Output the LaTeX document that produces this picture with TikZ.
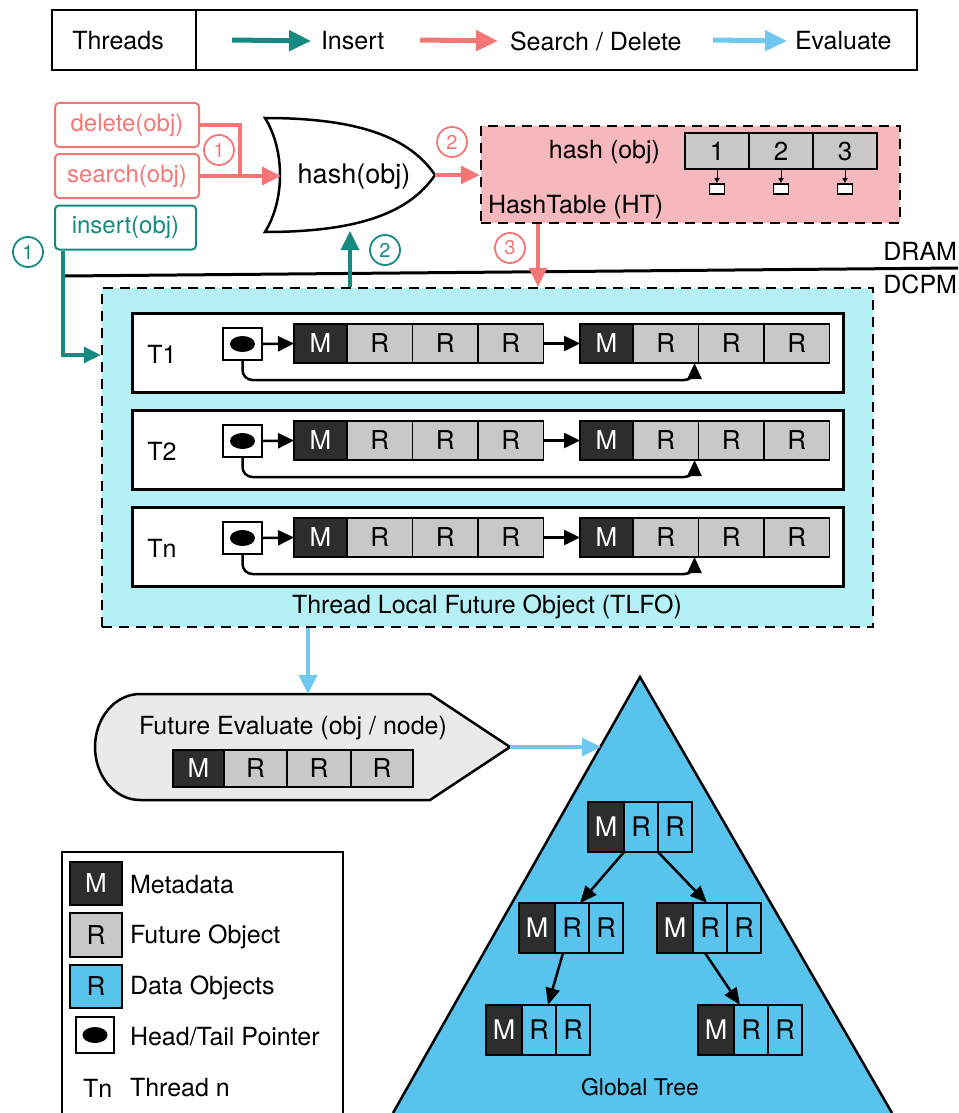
\documentclass[tikz,border=0pt]{standalone}
\usepackage{fontspec}
\setmainfont{TeX Gyre Heros}
\usetikzlibrary{arrows.meta,calc}
\definecolor{tealc}{RGB}{22,138,128}
\definecolor{pinkc}{RGB}{244,118,118}
\definecolor{bluec}{RGB}{110,200,240}
\definecolor{htfill}{RGB}{246,184,188}
\definecolor{tlfofill}{RGB}{180,240,246}
\definecolor{grayc}{RGB}{200,200,200}
\definecolor{darkc}{RGB}{45,45,45}
\definecolor{trifill}{RGB}{88,196,238}
\definecolor{fefill}{RGB}{234,234,234}
\newcommand\myfs[1]{\fontsize{#1}{#1}\selectfont}
\begin{document}
\begin{tikzpicture}[x=1pt,y=-1pt,
  lbl/.style={inner sep=0pt, outer sep=0pt, font=\myfs{25}},
  mc/.style={draw=black, fill=darkc, text=white, line width=1.5pt, inner sep=0pt, outer sep=0pt,
     minimum height=39pt, minimum width=53pt, anchor=west, font=\myfs{26}},
  rc/.style={mc, fill=grayc, text=black, minimum width=65.5pt},
  tm/.style={mc, line width=2pt, minimum width=36pt, minimum height=50pt, font=\myfs{27}},
  tr/.style={tm, fill=trifill, text=black, minimum width=34pt},
  legarrow/.style={line width=5pt, -{Triangle[length=22pt,width=20pt]}},
  carrow/.style={line width=3.5pt, -{Triangle[length=19pt,width=18pt]}},
  numc/.style={circle, draw, line width=1.8pt, minimum size=30pt, inner sep=0pt, font=\myfs{20}},
  blk/.style={line width=2.5pt, -{Triangle[length=16pt,width=15pt]}},
  tarr/.style={line width=2.5pt, -{Triangle[length=17pt,width=14pt]}},
  opbox/.style={draw, line width=2pt, rounded corners=4pt, minimum width=144pt, minimum height=44pt, inner sep=0pt, font=\myfs{24}},
  cellh/.style={draw, fill=grayc, line width=2pt, minimum width=64pt, minimum height=36pt, inner sep=0pt, font=\myfs{26}},
  sbox/.style={draw, fill=white, line width=1.8pt, minimum width=15pt, minimum height=10pt, inner sep=0pt},
  dbox/.style={draw, dashed, dash pattern=on 10pt off 7pt, line width=2.5pt, inner sep=0pt},
  ptrbox/.style={draw, fill=white, line width=2pt, minimum width=39pt, minimum height=32pt, inner sep=0pt}
]
\useasboundingbox (0,0) rectangle (958,1113);

% ---------- top legend ----------
\node[draw, line width=2pt, minimum width=865pt, minimum height=60pt, inner sep=0pt] (leg) at (484.5,40) {};
\draw[line width=2pt] ($(leg.north west)+(145,0)$) -- ($(leg.south west)+(145,0)$);
\node[lbl] (lthr) at (118,41) {Threads};
\node[lbl, anchor=west] (lins) at (321,41) {Insert};
\node[lbl, anchor=west] (lsd) at (510,41) {Search / Delete};
\node[lbl, anchor=west] (lev) at (795,41) {Evaluate};
\coordinate (la1) at (232,40);
\coordinate (la2) at (420,40);
\coordinate (la3) at (713,40);
\draw[legarrow, tealc] (la1) -- ([xshift=-10pt]lins.west);
\draw[legarrow, pinkc] (la2) -- ([xshift=-12pt]lsd.west);
\draw[legarrow, bluec] (la3) -- ([xshift=-8pt]lev.west);

% ---------- operations ----------
\node[opbox, draw=pinkc, text=pinkc] (del) at (127,125) {delete(obj)};
\node[opbox, draw=pinkc, text=pinkc] (srch) at (127,176) {search(obj)};
\node[opbox, draw=tealc, text=tealc, minimum width=141pt] (ins) at (125.5,227.5) {insert(obj)};

% hash gate
\draw[line width=2.5pt, fill=white] (265,118) .. controls (285,150) and (285,200) .. (265,232)
   .. controls (360,232) and (410,212) .. (435,175)
   .. controls (410,138) and (360,118) .. cycle;
\node[lbl, font=\myfs{27}] (hash) at (354,177) {hash(obj)};
\coordinate (gin) at (281,176);
\coordinate (gtip) at (435,175);
\coordinate (gbot) at (350,231);
\coordinate (jn) at (240,176);

\draw[pinkc, line width=3.5pt] (del.east) -| (jn);
\draw[carrow, pinkc] (srch.east) -- (gin);
\node[numc, draw=pinkc, text=pinkc] (p1) at (219,150) {1};

% hash table
\node[dbox, fill=htfill, minimum width=419pt, minimum height=97pt] (ht) at (690.5,174.5) {};
\node[lbl, anchor=east] (hthash) at (660,152) {hash (obj)};
\node[cellh] (h1) at (717,151) {1};
\node[cellh] (h2) at (781,151) {2};
\node[cellh] (h3) at (845,151) {3};
\foreach \k in {1,2,3}{
  \node[sbox] (s\k) at ($(h\k.south)+(0,19)$) {};
  \draw[line width=1pt, -{Triangle[length=5pt,width=5pt]}] (h\k.south) -- (s\k.north);
}
\node[lbl, anchor=west] (htlab) at (488,207) {HashTable (HT)};
\draw[carrow, pinkc] (gtip) -- (ht.west |- gtip);
\node[numc, draw=pinkc, text=pinkc] (p2) at (452,142) {2};

% DRAM / DCPM
\draw[line width=3pt] (65,276) -- (958,268);
\node[lbl, anchor=east] (dram) at (957,251) {DRAM};
\node[lbl, anchor=east] (dcpm) at (957,284) {DCPM};

% ---------- TLFO ----------
\node[dbox, fill=tlfofill, minimum width=771pt, minimum height=339pt] (tlfo) at (487.5,457.5) {};
\node[lbl] (tlfolab) at (487,607) {Thread Local Future Object (TLFO)};

\coordinate (x3) at (538,0);
\draw[carrow, pinkc] (x3 |- ht.south) -- (x3 |- tlfo.north);
\node[numc, draw=pinkc, text=pinkc] (p3) at (510,248) {3};

\coordinate (xi) at (63,0);
\coordinate (yi) at (0,355);
\draw[tealc, line width=3.5pt, -{Triangle[length=17pt,width=16pt]}] (xi |- ins.south) |- (tlfo.west |- yi);
\node[numc, draw=tealc, text=tealc] (t1c) at (28,252) {1};
\draw[carrow, tealc] (gbot |- tlfo.north) -- (gbot);
\node[numc, draw=tealc, text=tealc] (t2c) at (385,250) {2};

\foreach \i/\lab/\dy in {1/T1/0,2/T2/97,3/Tn/194}{
  \node[draw, line width=3pt, fill=white, minimum width=711pt, minimum height=79pt, inner sep=0pt] (row\i) at (487.5,352.5+\dy) {};
  \node[lbl] (lab\i) at (162,354+\dy) {\lab};
  \node[ptrbox] (ptr\i) at (242.5,344+\dy) {};
  \fill (ptr\i.center) ellipse [x radius=12.5, y radius=8];
  \node[mc] (a\i0) at (294,343.5+\dy) {M};
  \node[rc] (a\i1) at (a\i0.east) {R};
  \node[rc] (a\i2) at (a\i1.east) {R};
  \node[rc] (a\i3) at (a\i2.east) {R};
  \node[mc] (b\i0) at (580,343.5+\dy) {M};
  \node[rc] (b\i1) at (b\i0.east) {R};
  \node[rc] (b\i2) at (b\i1.east) {R};
  \node[rc] (b\i3) at (b\i2.east) {R};
  \draw[blk] (ptr\i.east) -- (a\i0.west);
  \draw[blk] (a\i3.east) -- (b\i0.west);
  \draw[line width=2.5pt, -{Triangle[length=16pt,width=14pt]}] (ptr\i.south) [rounded corners=10pt] |- ($(b\i1.south east)+(-4,17)$) [sharp corners] -- ($(b\i1.south east)+(-4,0)$);
}

% ---------- Future Evaluate ----------
\draw[line width=2.5pt, fill=fefill] (430,694) -- (140,694) arc[start angle=270, end angle=90, x radius=45, y radius=53] -- (430,800) -- (510,747) -- cycle;
\coordinate (fetop) at (308,694);
\coordinate (fetip) at (510,747);
\node[lbl] (fetxt) at (293,728) {Future Evaluate (obj / node)};
\node[mc, minimum height=37pt, minimum width=51pt] (f0) at (173,768.5) {M};
\node[rc, minimum height=37pt, minimum width=63pt] (f1) at (f0.east) {R};
\node[rc, minimum height=37pt, minimum width=64pt] (f2) at (f1.east) {R};
\node[rc, minimum height=37pt, minimum width=62pt] (f3) at (f2.east) {R};
\draw[carrow, bluec] (fetop |- tlfo.south) -- (fetop);

% ---------- Global tree ----------
\coordinate (apex) at (640,677);
\coordinate (tbl) at (393,1113);
\coordinate (tbr) at (892,1113);
\fill[trifill] (apex) -- (tbr) -- (tbl) -- cycle;
\draw[line width=2.5pt] (tbl) -- (apex) -- (tbr);
\coordinate (tin) at (601,747);
\draw[carrow, bluec] (fetip) -- (tin);

\node[tm] (r0) at (588,827) {M};
\node[tr] (r1) at (r0.east) {R};
\node[tr] (r2) at (r1.east) {R};
\node[tm] (l0) at (519,928) {M};
\node[tr] (l1) at (l0.east) {R};
\node[tr] (l2) at (l1.east) {R};
\node[tm] (q0) at (657,928) {M};
\node[tr] (q1) at (q0.east) {R};
\node[tr] (q2) at (q1.east) {R};
\node[tm] (ll0) at (486,1030) {M};
\node[tr] (ll1) at (ll0.east) {R};
\node[tr] (ll2) at (ll1.east) {R};
\node[tm] (qq0) at (698,1030) {M};
\node[tr] (qq1) at (qq0.east) {R};
\node[tr] (qq2) at (qq1.east) {R};
\draw[tarr] (r0.south east) -- ($(l1.north)+(8,0)$);
\draw[tarr] (r1.south east) -- ($(q1.north)+(-3,0)$);
\draw[tarr] ($(l0.south east)+(8,0)$) -- ($(ll1.north)+(9,0)$);
\draw[tarr] ($(q1.south west)+(12,0)$) -- ($(qq1.north west)+(6,0)$);
\node[lbl, font=\myfs{23}] (gt) at (640,1087) {Global Tree};

% ---------- bottom legend ----------
\draw[line width=2.5pt] (62,1113) -- (62,852) -- (343,852) -- (343,1113);
\node[mc, line width=2.5pt, minimum width=52pt, minimum height=43pt] (kg1) at (70,883.5) {M};
\node[lbl, anchor=west] (kt1) at (130,885) {Metadata};
\node[rc, line width=2.5pt, minimum width=52pt, minimum height=44pt] (kg2) at (70,935) {R};
\node[lbl, anchor=west] (kt2) at (130,937) {Future Object};
\node[rc, fill=trifill, line width=2.5pt, minimum width=52pt, minimum height=43pt] (kg3) at (70,986.5) {R};
\node[lbl, anchor=west] (kt3) at (130,988) {Data Objects};
\node[ptrbox, minimum width=38pt, minimum height=36pt] (kg4) at (95,1035) {};
\fill (kg4.center) ellipse [x radius=12.5, y radius=8];
\node[lbl, anchor=west] (kt4) at (130,1037) {Head/Tail Pointer};
\node[lbl, anchor=west] (kg5) at (83,1088) {Tn};
\node[lbl, anchor=west] (kt5) at (130,1088) {Thread n};
\end{tikzpicture}
\end{document}
